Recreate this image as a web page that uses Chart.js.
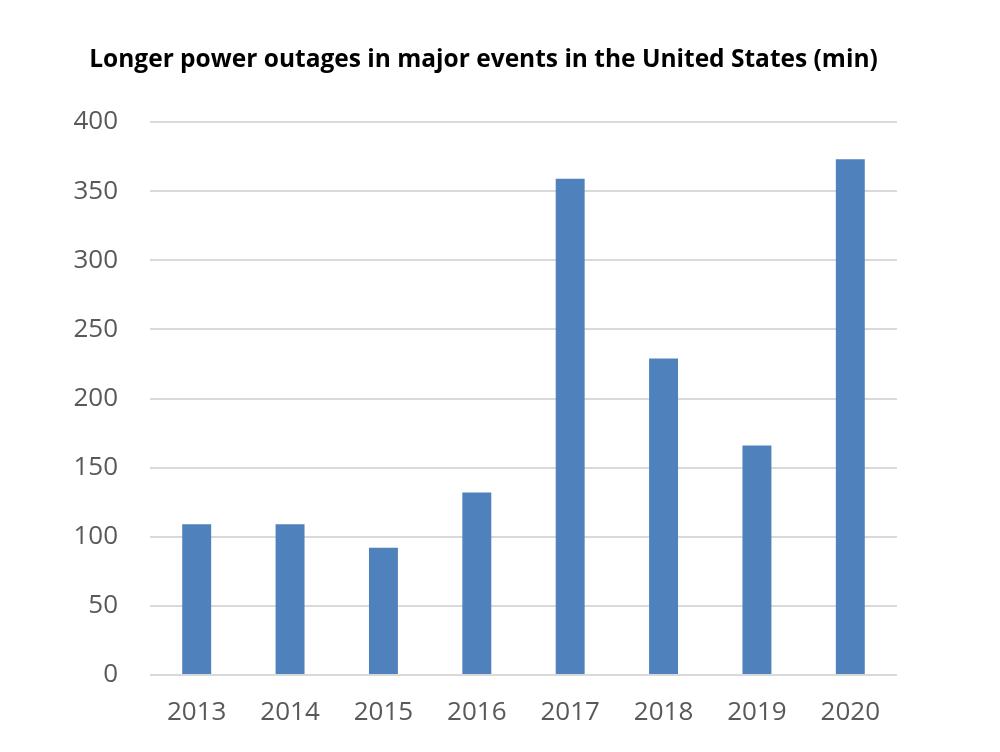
<!DOCTYPE html>
<html>
<head>
<meta charset="utf-8">
<script src="https://cdn.jsdelivr.net/npm/chart.js@4"></script>
<style>
  html, body { margin: 0; padding: 0; background: #fff; }
  #wrap { width: 1000px; height: 752px; position: relative; }
</style>
</head>
<body>
<div id="wrap"><canvas id="myChart"></canvas></div>
<script>
// chart data
const years = ['2013', '2014', '2015', '2016', '2017', '2018', '2019', '2020']
const outage_min = [109, 109, 92, 132, 359, 229, 166, 373]
const y_ticks = [0, 50, 100, 150, 200, 250, 300, 350, 400]

const ctx = document.getElementById('myChart');
let myChart = new Chart(ctx, {
    type: 'bar',
    data: {
      labels: years,
      datasets: [{
        data: outage_min,
        backgroundColor: 'rgb(79, 129, 189)',
        borderWidth: 0,
        barPercentage: 0.62,
        categoryPercentage: 0.5
      }]
    },
    options: {
        responsive: true,
        maintainAspectRatio: false,
        animation: false,
        layout: {
            padding: {top: 0, left: 0, right: 33, bottom: 0}
        },
        plugins: {
            legend: {display: false},
            tooltip: {enabled: false},
            title: {
                display: true,
                text: 'Longer power outages in major events in the United States (min)',
                color: '#000',
                font: {family: 'Open Sans', size: 24.5, weight: 'bold'},
                padding: {top: 45, bottom: 47.6}
            }
        },
        scales: {
            x: {
                grid: {display: false, drawTicks: false},
                border: {display: false},
                ticks: {
                    color: '#595959',
                    font: {family: 'Open Sans', size: 26},
                    padding: 22,
                    maxRotation: 0
                },
                afterFit: function (axis) { axis.height = 77 }
            },
            y: {
                min: 0,
                max: 400,
                afterBuildTicks: function (axis) {
                    axis.ticks = y_ticks.map(v => ({value: v}))
                },
                grid: {color: '#d9d9d9', lineWidth: 2, drawTicks: false},
                border: {display: false},
                ticks: {
                    color: '#595959',
                    font: {family: 'Open Sans', size: 26},
                    padding: 32
                },
                afterFit: function (axis) { axis.width = 150 }
            },
            // empty right-hand axis, only keeps the plot clear of the right edge
            yr: {
                position: 'right',
                grid: {display: false, drawTicks: false},
                border: {display: false},
                ticks: {display: false},
                afterFit: function (axis) { axis.width = 70 }
            }
        }
    }
})
</script>
</body>
</html>
